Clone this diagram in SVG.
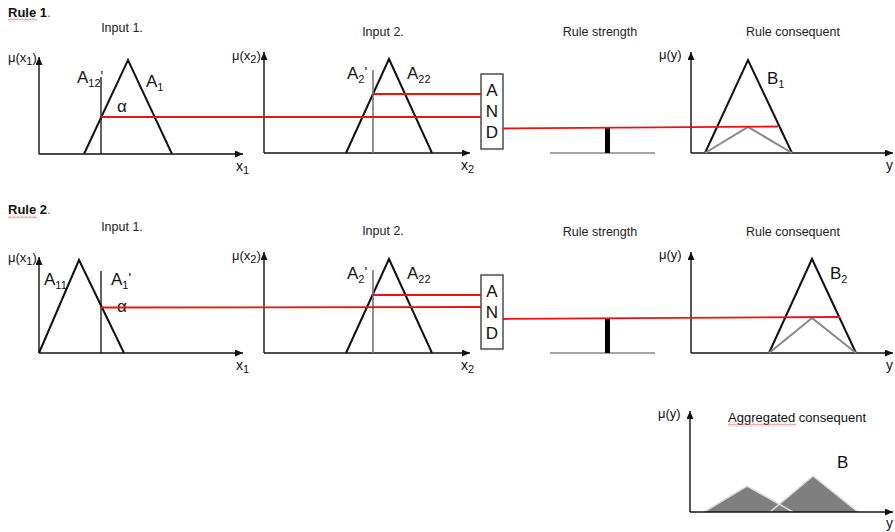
<svg xmlns="http://www.w3.org/2000/svg" width="895" height="532" viewBox="0 0 895 532">
  <defs>
    <marker id="arrow" markerUnits="userSpaceOnUse" markerWidth="9" markerHeight="8" refX="8" refY="3.5" orient="auto">
      <path d="M0,0 L8,3.5 L0,7 z" fill="#111"/>
    </marker>
    <pattern id="squiggle" patternUnits="userSpaceOnUse" width="4" height="3">
      <path d="M0,2.5 L2,0.5 L4,2.5" fill="none" stroke="#e03030" stroke-width="0.8"/>
    </pattern>
  </defs>
  <style>
    text { font-family: "Liberation Sans", Arial, sans-serif; fill: #111; }
    .title { font-size: 12.5px; fill: #222; text-anchor: middle; }
    .rule { font-size: 13px; font-weight: bold; }
    .mu { font-size: 13px; }
    .ax { font-size: 14px; }
    .lbl { font-size: 17px; }
    .sub { font-size: 11px; }
    .axis { stroke: #111; stroke-width: 1.4; fill: none; marker-end: url(#arrow); }
    .mf { stroke: #111; stroke-width: 2; fill: none; stroke-linejoin: miter; }
    .clip { stroke: #888; stroke-width: 2; fill: none; }
    .cut { stroke: #111; stroke-width: 1.3; }
    .cut2 { stroke: #777; stroke-width: 1.6; }
    .red { stroke: #f01010; stroke-width: 1.8; fill: none; }
    .base { stroke: #888; stroke-width: 1.3; }
    .bar { fill: #000; }
    .andbox { fill: #fff; stroke: #222; stroke-width: 1.2; }
    .andtxt { font-size: 17px; text-anchor: middle; }
    .agg { fill: #7f7f7f; stroke: none; }
    .aggedge { fill: none; stroke: #dcdcdc; stroke-width: 1.5; }
  </style>

  <!-- Headings -->
  <g id="headings">
    <text class="rule" x="8" y="17">Rule 1<tspan font-weight="normal" fill="#666">.</tspan></text>
    <rect x="8" y="18.5" width="29" height="3" fill="url(#squiggle)"/>
    <text class="rule" x="8" y="214">Rule 2<tspan font-weight="normal" fill="#666">.</tspan></text>
    <rect x="8" y="215.5" width="29" height="3" fill="url(#squiggle)"/>
  </g>

  <!-- Rule 1, input 1 -->
  <g id="r1-input1">
    <text class="title" x="122" y="32">Input 1.</text>
    <path class="axis" d="M39,154 V57"/>
    <path class="axis" d="M39,154 H243"/>
    <text class="mu" x="8" y="62">μ(x<tspan class="sub" dy="3">1</tspan><tspan dy="-3">)</tspan></text>
    <polyline class="mf" points="84,154 128,60 172,154"/>
    <line class="cut" x1="101" y1="77" x2="101" y2="154"/>
    <text class="lbl" x="77" y="83">A<tspan class="sub" dy="4">12</tspan><tspan font-size="14" dy="-6">'</tspan></text>
    <text class="lbl" x="146" y="87">A<tspan class="sub" dy="4">1</tspan></text>
    <text class="lbl" x="117" y="112">α</text>
    <text class="ax" x="236" y="171">x<tspan class="sub" dy="3">1</tspan></text>
  </g>

  <!-- Rule 1, input 2 -->
  <g id="r1-input2">
    <text class="title" x="383" y="36">Input 2.</text>
    <path class="axis" d="M264,153 V52"/>
    <path class="axis" d="M264,153 H470"/>
    <text class="mu" x="232" y="60">μ(x<tspan class="sub" dy="3">2</tspan><tspan dy="-3">)</tspan></text>
    <polyline class="mf" points="346,153 389,59 432,153"/>
    <line class="cut2" x1="373" y1="70" x2="373" y2="153"/>
    <text class="lbl" x="347" y="79">A<tspan class="sub" dy="4">2</tspan><tspan font-size="14" dy="-6">'</tspan></text>
    <text class="lbl" x="407" y="79">A<tspan class="sub" dy="4">22</tspan></text>
    <text class="ax" x="461" y="170">x<tspan class="sub" dy="3">2</tspan></text>
  </g>

  <!-- Rule 1, AND operator -->
  <g id="r1-and">
    <rect class="andbox" x="481" y="74" width="22" height="75"/>
    <text class="andtxt" x="492" y="96">A</text>
    <text class="andtxt" x="492" y="117">N</text>
    <text class="andtxt" x="492" y="138">D</text>
  </g>

  <!-- Rule 1, rule strength -->
  <g id="r1-strength">
    <text class="title" x="600" y="36">Rule strength</text>
    <line class="base" x1="550" y1="153" x2="655" y2="153"/>
    <rect class="bar" x="605" y="128" width="5" height="25"/>
  </g>

  <!-- Rule 1, consequent -->
  <g id="r1-consequent">
    <text class="title" x="793" y="36">Rule consequent</text>
    <path class="axis" d="M691,153 V52"/>
    <path class="axis" d="M691,153 H893"/>
    <text class="mu" x="659" y="59">μ(y)</text>
    <polyline class="mf" points="705,153 748,60 792,153"/>
    <polyline class="clip" points="705,153 748,127 792,153"/>
    <text class="lbl" x="767" y="84">B<tspan class="sub" dy="4">1</tspan></text>
    <text class="ax" x="886" y="170">y</text>
  </g>

  <!-- Rule 2, input 1 -->
  <g id="r2-input1">
    <text class="title" x="122" y="231">Input 1.</text>
    <path class="axis" d="M39,353 V257"/>
    <path class="axis" d="M39,353 H243"/>
    <text class="mu" x="8" y="262">μ(x<tspan class="sub" dy="3">1</tspan><tspan dy="-3">)</tspan></text>
    <polyline class="mf" points="39,353 79,260 124,353"/>
    <line class="cut" x1="101" y1="271" x2="101" y2="353"/>
    <text class="lbl" x="44" y="285">A<tspan class="sub" dy="4">11</tspan></text>
    <text class="lbl" x="111" y="285">A<tspan class="sub" dy="4">1</tspan><tspan font-size="14" dy="-6">'</tspan></text>
    <text class="lbl" x="117" y="312" fill="#777">α</text>
    <text class="ax" x="236" y="370">x<tspan class="sub" dy="3">1</tspan></text>
  </g>

  <!-- Rule 2, input 2 -->
  <g id="r2-input2">
    <text class="title" x="383" y="235">Input 2.</text>
    <path class="axis" d="M264,353 V252"/>
    <path class="axis" d="M264,353 H470"/>
    <text class="mu" x="232" y="260">μ(x<tspan class="sub" dy="3">2</tspan><tspan dy="-3">)</tspan></text>
    <polyline class="mf" points="346,353 389,259 432,353"/>
    <line class="cut2" x1="373" y1="270" x2="373" y2="353"/>
    <text class="lbl" x="347" y="279">A<tspan class="sub" dy="4">2</tspan><tspan font-size="14" dy="-6">'</tspan></text>
    <text class="lbl" x="407" y="279">A<tspan class="sub" dy="4">22</tspan></text>
    <text class="ax" x="461" y="370">x<tspan class="sub" dy="3">2</tspan></text>
  </g>

  <!-- Rule 2, AND operator -->
  <g id="r2-and">
    <rect class="andbox" x="481" y="275" width="22" height="74"/>
    <text class="andtxt" x="492" y="297">A</text>
    <text class="andtxt" x="492" y="318">N</text>
    <text class="andtxt" x="492" y="339">D</text>
  </g>

  <!-- Rule 2, rule strength -->
  <g id="r2-strength">
    <text class="title" x="600" y="236">Rule strength</text>
    <line class="base" x1="550" y1="353" x2="655" y2="353"/>
    <rect class="bar" x="605" y="319" width="5" height="34"/>
  </g>

  <!-- Rule 2, consequent -->
  <g id="r2-consequent">
    <text class="title" x="793" y="236">Rule consequent</text>
    <path class="axis" d="M691,353 V252"/>
    <path class="axis" d="M691,353 H893"/>
    <text class="mu" x="659" y="259">μ(y)</text>
    <polyline class="mf" points="769,353 812,259 856,353"/>
    <polyline class="clip" points="769,353 812,318 856,353"/>
    <text class="lbl" x="830" y="279">B<tspan class="sub" dy="4">2</tspan></text>
    <text class="ax" x="886" y="370">y</text>
  </g>

  <!-- Aggregated consequent -->
  <g id="aggregated">
    <path class="axis" d="M690,512 V411"/>
    <text class="mu" x="658" y="418">μ(y)</text>
    <text x="728" y="422" font-size="13" fill="#222">Aggregated consequent</text>
    <rect x="728" y="423.5" width="68" height="3" fill="url(#squiggle)"/>
    <polygon class="agg" points="704,512 747,486 793,512"/>
    <polygon class="agg" points="770,512 813,476 858,512"/>
    <polyline class="aggedge" points="704,512 747,486 793,512"/>
    <polyline class="aggedge" points="770,512 813,476 858,512"/>
    <path class="axis" d="M690,512 H893"/>
    <text class="lbl" x="837" y="468">B</text>
    <text class="ax" x="886" y="528">y</text>
  </g>

  <!-- Connectors: membership levels carried to the AND operators and rule strengths -->
  <g id="connectors">
    <line class="red" x1="101" y1="117" x2="481" y2="117"/>
    <line class="red" x1="373" y1="94" x2="481" y2="94"/>
    <line class="red" x1="503" y1="128.5" x2="778" y2="126.5"/>
    <line class="red" x1="101" y1="307.5" x2="481" y2="307"/>
    <line class="red" x1="373" y1="295" x2="481" y2="295"/>
    <line class="red" x1="503" y1="319" x2="840" y2="317"/>
  </g>
</svg>
